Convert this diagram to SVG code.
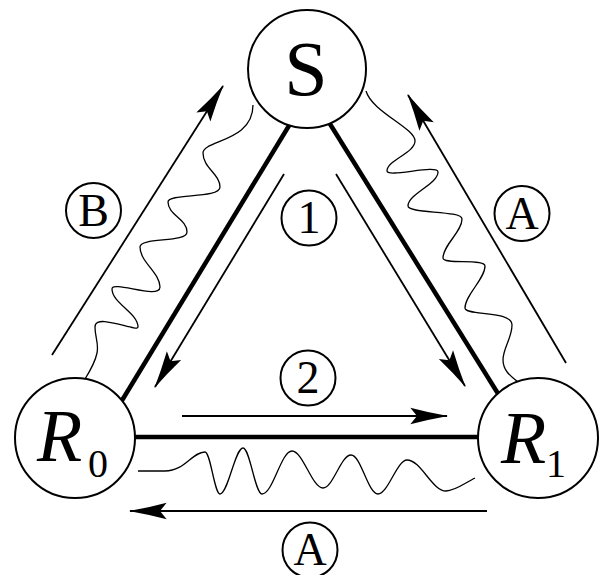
<svg xmlns="http://www.w3.org/2000/svg" width="600" height="575" viewBox="0 0 600 575">
<defs>
<marker id="ah" markerUnits="userSpaceOnUse" markerWidth="40" markerHeight="20" viewBox="-34 -9 36 18" refX="0" refY="0" orient="auto" overflow="visible">
<path d="M1,0 Q-16,-3 -33,-7.5 L-27,0 L-33,7.5 Q-16,3 1,0 Z" fill="#000"/>
</marker>
</defs>
<rect width="600" height="575" fill="#fff"/>
<g id="connectors" fill="none" stroke="#000">
<g stroke-width="4.5">
<line x1="290" y1="124" x2="118" y2="407"/>
<line x1="330" y1="124" x2="502" y2="400"/>
<line x1="130" y1="437" x2="482" y2="437"/>
</g>
<g stroke-width="1.8" marker-end="url(#ah)">
<line x1="284" y1="174" x2="155" y2="387"/>
<line x1="336" y1="174" x2="465" y2="386"/>
<line x1="182" y1="416" x2="447" y2="416"/>
<line x1="52" y1="355" x2="223" y2="86"/>
<line x1="566" y1="363" x2="408" y2="95"/>
<line x1="487" y1="511" x2="130" y2="511"/>
</g>
<g stroke-width="1.3">
<path d="M253,105 C253,142 203,140 203,153 C203,168 220,174 220,187 C220,199 168,193 168,202 C168,215 187,219 187,232 C187,243 140,237 140,247 C140,262 160,273 160,287 C160,300 112,280 112,289 C112,303 138,313 138,327 C138,333 95,312 95,327 C95,338 99,343 97,353 C95,363 90,371 85,379"/>
<path d="M366,91 C372,112 415,128 415,141 C415,153 387,160 387,171 C387,178 438,164 438,172 C438,184 408,194 408,206 C408,214 462,210 462,219 C462,232 443,245 443,258 C443,265 485,258 485,266 C485,279 465,295 465,308 C465,316 512,310 512,325 C512,338 503,348 503,360 C503,370 510,376 518,382"/>
<path d="M138,471 L165,471 C185,471 192,452 205,452 C210.5,452 214.5,494 220,494 C228,494 235,448 243,448 C250,448 255,494 262,494 C273,494 281,451 292,451 C303,451 312,488 323,488 C333,488 341,455 351,455 C361,455 368,494 378,494 C388,494 397,460 407,460 C421,460 432,491 446,491 C455,491 465,483 475,478"/>
</g>
</g>
<g id="S">
<circle cx="307" cy="69" r="59" fill="#fff" stroke="#000" stroke-width="2"/>
<text x="306" y="95" font-size="78" font-family="Liberation Serif, Tinos, Times New Roman, serif" text-anchor="middle">S</text>
</g>
<g id="R0">
<circle cx="75" cy="438" r="60" fill="#fff" stroke="#000" stroke-width="2"/>
<text x="37" y="461" font-size="74" font-family="Liberation Serif, Tinos, Times New Roman, serif" font-style="italic">R</text>
<text x="88" y="477" font-size="40" font-family="Liberation Serif, Tinos, Times New Roman, serif">0</text>
</g>
<g id="R1">
<circle cx="538" cy="438" r="60" fill="#fff" stroke="#000" stroke-width="2"/>
<text x="501" y="463" font-size="74" font-family="Liberation Serif, Tinos, Times New Roman, serif" font-style="italic">R</text>
<text x="546" y="477" font-size="40" font-family="Liberation Serif, Tinos, Times New Roman, serif">1</text>
</g>
<g id="label-B">
<circle cx="93.5" cy="210.5" r="27.5" fill="none" stroke="#000" stroke-width="2"/>
<text x="93.5" y="226" font-size="46" font-family="Liberation Serif, Tinos, Times New Roman, serif" text-anchor="middle">B</text>
</g>
<g id="label-A-right">
<circle cx="522" cy="213.5" r="27.5" fill="none" stroke="#000" stroke-width="2"/>
<text x="522" y="229" font-size="46" font-family="Liberation Serif, Tinos, Times New Roman, serif" text-anchor="middle">A</text>
</g>
<g id="label-A-bottom">
<circle cx="310" cy="550" r="27.5" fill="none" stroke="#000" stroke-width="2"/>
<text x="310" y="565" font-size="46" font-family="Liberation Serif, Tinos, Times New Roman, serif" text-anchor="middle">A</text>
</g>
<g id="label-1">
<circle cx="309" cy="218" r="27.5" fill="none" stroke="#000" stroke-width="2"/>
<text x="309" y="233" font-size="46" font-family="Liberation Serif, Tinos, Times New Roman, serif" text-anchor="middle">1</text>
</g>
<g id="label-2">
<circle cx="308" cy="378" r="27.5" fill="none" stroke="#000" stroke-width="2"/>
<text x="308" y="393" font-size="46" font-family="Liberation Serif, Tinos, Times New Roman, serif" text-anchor="middle">2</text>
</g>
</svg>
